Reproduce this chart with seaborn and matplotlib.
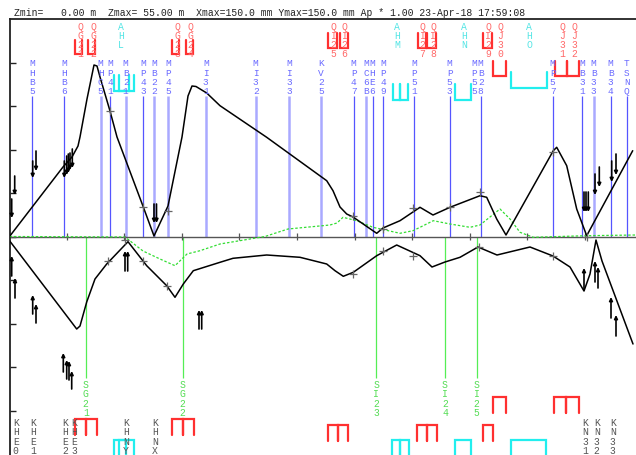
import matplotlib
matplotlib.use("Agg")
import matplotlib.pyplot as plt
import numpy as np
import pandas as pd
import seaborn as sns

# ---------------- data (chart coordinates: x = chainage px, y = profile px) ----------------
header = "Zmin=   0.00 m  Zmax= 55.00 m  Xmax=150.0 mm Ymax=150.0 mm Ap * 1.00 23-Apr-18 17:59:08"

station_names = ["MHB5", "MHB6", "MHC5", "MP41", "MB21", "MP43", "MB22", "MP45", "MI31", "MI32",
                 "MI33", "KV25", "MP47", "MC6B", "MHE6", "MP49", "MP51", "MP53", "MP55", "MB28",
                 "MP57", "MB31", "MB33", "MB34", "TSNQ"]
station_x = [32.3, 64, 100.7, 110, 125.7, 143.3, 154, 168.3, 205.8, 255.7,
             289, 321, 353.7, 366.3, 372.6, 383.3, 414.3, 449.7, 474.4, 480.7,
             552.7, 582, 593.7, 610.7, 626.7]
station_pale = [False, False, True, False, True, False, True, True, True, True,
                True, True, False, True, False, False, False, False, False, False,
                False, False, True, False, False]
station_line = [True] * 18 + [False] + [True] * 6

top_names = ["QG21", "QG22", "AHL", "QG23", "QG24", "QI25", "QI26", "AHM", "QI27", "QI28",
             "AHN", "QI29", "QJ30", "AHO", "QJ31", "QJ32"]
top_x = [80, 93, 121, 177, 190, 333.5, 344.5, 397, 422.5, 433, 464, 488, 500, 529, 562, 574]
top_kind = ["Q", "Q", "A", "Q", "Q", "Q", "Q", "A", "Q", "Q", "A", "Q", "Q", "A", "Q", "Q"]

# open-top intervals near the labels: (x0, x1, ytop, ybottom)
top_red_u = [(75, 82, 41, 55), (88, 95, 41, 55), (172, 179, 41, 55), (186, 193, 41, 55),
             (328, 337, 34, 49), (340, 348, 34, 49), (418, 426, 34, 49), (427, 436, 34, 49),
             (483, 492, 34, 49), (493, 506, 62, 77), (555, 567, 62, 77), (567, 579, 62, 77)]
top_cyan_u = [(114, 129, 76, 92), (119, 134, 76, 92), (393, 400, 85, 101), (400, 408, 85, 101),
              (455, 471, 85, 101), (511, 547, 73, 89)]
# closed-top intervals at the bottom: (x0, x1, ytop, ybottom)
bot_red_n = [(75, 86, 420, 436), (86, 97, 420, 436), (172, 183, 420, 436), (183, 194, 420, 436),
             (328, 338, 426, 442), (338, 348, 426, 442), (417, 427, 426, 442), (427, 437, 426, 442),
             (483, 493, 426, 442), (493, 506, 398, 414), (554, 566, 398, 414), (566, 579, 398, 414)]
bot_cyan_n = [(114, 126, 441, 458), (119, 134, 441, 458), (392, 400, 441, 458), (400, 409, 441, 458),
              (455, 471, 441, 458), (511, 546, 441, 458)]

sg_names = ["SG21", "SG22", "SI23", "SI24", "SI25"]
sg_x = [85.7, 182.7, 376.3, 445, 476.7]

kb_names = ["KHE0", "KHE1", "KHE2", "KHE3", "KHNY", "KHNX", "KN31", "KN32", "KN33"]
kb_x = [15.7, 33.3, 65, 74, 125.7, 155, 585, 596.7, 612.7]

upper_x = [9.5, 63, 72, 78, 80, 87, 94, 97, 100, 110, 117, 143.3, 154, 168, 182, 188, 192, 196,
           206.7, 220, 266.7, 326.7, 333, 340, 346.7, 353, 376.7, 383, 400, 420, 433, 450, 480,
           486.7, 496.7, 506, 553.3, 556.7, 566.7, 576.7, 586.7, 632.7]
upper_y = [237.5, 168, 158, 147, 138, 100, 66, 67, 78, 112, 138, 208, 237, 207, 138, 97, 87, 87.5,
           94, 106.7, 138.3, 181.7, 191.7, 208, 215, 218, 234.3, 229, 221.7, 208.3, 216, 208.3, 196.7,
           198.3, 220, 236, 151.7, 148.3, 166.7, 210, 236.7, 151.7]

green_x = [9.5, 125, 143, 160, 175, 187, 200, 220, 265, 288, 330, 337, 343, 356.7, 373, 400, 413,
           420, 433.3, 450, 470, 480, 490, 500, 510, 520, 533.3, 553, 586.7, 636]
green_y = [237.5, 238, 252, 260, 266.7, 255, 251.7, 245, 237.5, 230, 226, 224, 218.3, 221.7, 228.3,
           234.3, 231.7, 228.3, 221.7, 225, 228.3, 226, 218, 210, 220, 233.3, 238.3, 237.7, 236.7, 236]

lower_x = [9.5, 76.7, 80, 86.7, 95, 106.7, 128, 146.7, 166.7, 175, 183.3, 193.3, 220, 233, 266.7,
           300, 326.7, 335, 343.3, 353.3, 376.7, 396.7, 420, 432, 445, 460, 478, 497, 530, 553, 570,
           584, 590, 596, 602, 633]
lower_y = [241.7, 330, 327, 303, 280, 265, 242.7, 266.7, 286.7, 298.3, 285, 271.7, 263.3, 259.3, 256,
           258.3, 265, 271.7, 277.3, 273.3, 256.7, 246, 256.7, 268, 263, 258.3, 248, 256, 248, 257, 268,
           292, 275, 241, 262, 345]

cross_x = [110, 143.3, 168.3, 353.3, 383.3, 413.3, 450, 480, 552.7, 586.7,
           108.3, 143.3, 166.7, 125, 353.3, 382.7, 413.3, 479.3, 553.3]
cross_y = [112, 208, 212, 217.3, 230, 209, 208, 193, 152.7, 238,
           261.7, 261.7, 286.7, 240.7, 275, 251.7, 256.7, 248, 257]

# arrows: (x, tail y, head y)
arrows_down = [(11.7, 200, 219), (14.7, 177, 196), (32.7, 162, 179), (36, 152, 172),
               (64.3, 162, 179), (66.7, 157, 176), (68.3, 155, 174), (70, 154, 171), (72.3, 150, 169),
               (154, 205, 224), (156.5, 205, 224), (584, 193, 213), (586, 193, 213), (588.3, 193, 213),
               (595, 175, 196), (599.3, 168, 188), (611.7, 162, 183), (616, 155, 176)]
arrows_up = [(11.7, 277, 257), (15, 299, 279), (32.7, 315, 296), (36, 324, 305),
             (63.3, 373, 354), (66.7, 380, 361), (69, 381, 362), (71.7, 390, 372),
             (125, 272, 252), (127.7, 272, 252), (199, 330, 311), (201.7, 330, 311),
             (584, 291, 269), (595, 283, 262), (598, 289, 268), (611, 319, 298), (616, 337, 316)]

axis_ticks_y = [63.5, 107, 150.5, 194, 237.5, 281, 324.5, 368, 411.5]
base_ticks_x = [66.6, 124.2, 181.8, 239.4, 297, 354.6, 412.2, 469.8, 527.4, 585]
baseline_y = 237.5

# ---------------- drawing ----------------
sns.set_theme(style="white")
plt.rcParams['font.family'] = ['Liberation Mono', 'DejaVu Sans Mono']

W, H = 636, 456
fig = plt.figure(figsize=(W / 100, H / 100), dpi=100)
ax = fig.add_axes([9.5 / W, 0, (W - 9.5) / W, (H - 20) / H])
ax.set_xlim(9.5, 636)
ax.set_ylim(456, 20)

for side in ["right", "bottom"]:
    ax.spines[side].set_visible(False)
for side in ["left", "top"]:
    ax.spines[side].set_color("#222222")
    ax.spines[side].set_linewidth(1.3)
ax.set_xticks([])
ax.set_yticks(axis_ticks_y)
ax.tick_params(axis="y", direction="in", length=4, width=1, colors="#222222",
               left=True, labelleft=False)

fig.text(14 / W, 1 - 12.5 / H, header, fontsize=7, color="#222222", va="center", ha="left",
         family=["Liberation Mono"])

MONO = dict(family=["Liberation Mono"], ha="center", va="center")


def vtext(x, y0, s, color, dy=9.2, size=7):
    for i, ch in enumerate(s):
        ax.text(x, y0 + i * dy, ch, color=color, fontsize=size, **MONO, zorder=6)


# station lines and labels
for name, x, pale, has_line in zip(station_names, station_x, station_pale, station_line):
    if has_line:
        if pale:
            ax.vlines(x, 97, baseline_y, color="#a9a9ff", lw=1.8, zorder=1)
        else:
            ax.vlines(x, 97, baseline_y, color="#5555ff", lw=0.9, zorder=1)
    vtext(x, 64, name, "#6b6bff", size=6.8)

# baseline and its ticks
ax.axhline(baseline_y, color="#555555", lw=1.0, zorder=2)
ax.vlines(base_ticks_x, baseline_y - 3.5, baseline_y + 3.5, color="#555555", lw=0.9, zorder=2)

# green SG lines
ax.vlines(sg_x, baseline_y, 379, color="#55ee55", lw=0.9, zorder=1)
for name, x in zip(sg_names, sg_x):
    vtext(x, 385, name, "#55dd55", dy=9.4)

# bottom K labels
for name, x in zip(kb_names, kb_x):
    vtext(x, 423, name, "#555555", dy=9.3)

# top labels
for name, x, kind in zip(top_names, top_x, top_kind):
    vtext(x, 26.5, name, "#ff6a6a" if kind == "Q" else "#55e5e5")


def u_shape(x0, x1, ytop, ybot, color, open_top=True):
    if open_top:
        xs, ys = [x0, x0, x1, x1], [ytop, ybot, ybot, ytop]
    else:
        xs, ys = [x0, x0, x1, x1], [ybot, ytop, ytop, ybot]
    ax.plot(xs, ys, color=color, lw=1.6, solid_joinstyle="miter", zorder=5, clip_on=False)


for b in top_red_u:
    u_shape(*b, "#ff3030")
for b in top_cyan_u:
    u_shape(*b, "#22eeee")
for b in bot_red_n:
    u_shape(*b, "#ff3030", open_top=False)
for b in bot_cyan_n:
    u_shape(*b, "#22eeee", open_top=False)

# curves
df_up = pd.DataFrame({"x": upper_x, "y": upper_y})
df_green = pd.DataFrame({"x": green_x, "y": green_y})
df_low = pd.DataFrame({"x": lower_x, "y": lower_y})
sns.lineplot(data=df_green, x="x", y="y", sort=False, estimator=None, ax=ax,
             color="#33dd33", lw=0.9, dashes=False, zorder=3).lines[-1].set_dashes([2, 1.5])
sns.lineplot(data=df_up, x="x", y="y", sort=False, estimator=None, ax=ax,
             color="black", lw=1.1, zorder=4)
sns.lineplot(data=df_low, x="x", y="y", sort=False, estimator=None, ax=ax,
             color="black", lw=1.1, zorder=4)

df_cross = pd.DataFrame({"x": cross_x, "y": cross_y})
sns.scatterplot(data=df_cross, x="x", y="y", ax=ax, marker="+", s=30, color="#666666",
                linewidth=0.9, zorder=5)

for x, yt, yh in arrows_down + arrows_up:
    ax.annotate("", xy=(x, yh), xytext=(x, yt),
                arrowprops=dict(arrowstyle="-|>", lw=1.2, color="black",
                                mutation_scale=5, shrinkA=0, shrinkB=0), zorder=6)

ax.set_xlabel("")
ax.set_ylabel("")
ax.set_xlim(9.5, 636)
ax.set_ylim(456, 20)

fig.savefig("out.png", dpi=100)
